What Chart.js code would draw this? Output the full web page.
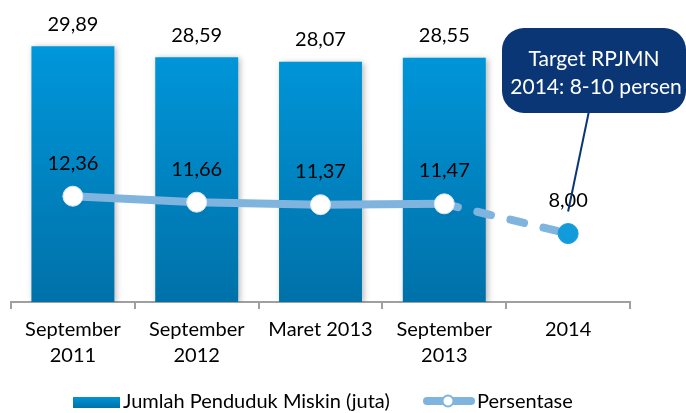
<!DOCTYPE html>
<html>
<head>
<meta charset="utf-8">
<script src="https://cdn.jsdelivr.net/npm/chart.js@4.4.1/dist/chart.umd.min.js"></script>
<style>
  html, body { margin: 0; padding: 0; background: #fff; }
  #wrap { width: 686px; height: 413px; position: relative; }
</style>
</head>
<body>
<div id="wrap"><canvas id="povertyChart"></canvas></div>
<script>
// --- DATA ---
const categories = [['September', '2011'], ['September', '2012'], 'Maret 2013', ['September', '2013'], '2014'];
const jumlahMiskin = [29.89, 28.59, 28.07, 28.55, null];
const persentase = [12.36, 11.66, 11.37, 11.47, 8.00];
const barLabel = 'Jumlah Penduduk Miskin (juta)';
const lineLabel = 'Persentase';
const calloutLines = ['Target RPJMN', '2014: 8-10 persen'];

const FONT = 'Lato, "Open Sans", sans-serif';
const LINE_BLUE = '#7fb4de';
const TARGET_BLUE = '#129bdb';
const NAVY = '#0b3676';

function fmt(v) {
    return v.toFixed(2).replace('.', ',');
}

function barGradient(ctx, top, bottom) {
    const g = ctx.createLinearGradient(0, top, 0, bottom);
    g.addColorStop(0, '#0097db');
    g.addColorStop(1, '#0071a9');
    return g;
}

// --- PLUGINS ---
const shadows = {
    id: 'shadows',
    beforeDatasetDraw(chart, args) {
        const ctx = chart.ctx;
        if (args.index === 0) {
            ctx.save();
            ctx.shadowColor = 'rgba(0,0,0,0.28)';
            ctx.shadowBlur = 6;
            ctx.shadowOffsetX = 2;
            ctx.shadowOffsetY = 1;
        } else {
            // soft shadow under the markers
            ctx.save();
            ctx.shadowColor = 'rgba(0,0,0,0.35)';
            ctx.shadowBlur = 5;
            ctx.shadowOffsetX = 2;
            ctx.shadowOffsetY = 3;
            ctx.fillStyle = 'rgba(0,0,0,0.15)';
            args.meta.data.forEach(pt => {
                ctx.beginPath();
                ctx.arc(pt.x, pt.y, 9, 0, Math.PI * 2);
                ctx.fill();
            });
            ctx.restore();
        }
    },
    afterDatasetDraw(chart, args) {
        if (args.index === 0) chart.ctx.restore();
    }
};

const valueLabels = {
    id: 'valueLabels',
    afterDatasetsDraw(chart) {
        const ctx = chart.ctx;
        ctx.save();
        ctx.font = '20px ' + FONT;
        ctx.fillStyle = '#000';
        ctx.textAlign = 'center';
        ctx.textBaseline = 'middle';
        chart.getDatasetMeta(0).data.forEach((bar, i) => {
            if (jumlahMiskin[i] == null) return;
            ctx.fillText(fmt(jumlahMiskin[i]), bar.x, bar.y - 22);
        });
        chart.getDatasetMeta(1).data.forEach((pt, i) => {
            ctx.fillText(fmt(persentase[i]), pt.x, pt.y - 33);
        });
        ctx.restore();
    }
};

const callout = {
    id: 'callout',
    afterDatasetsDraw(chart) {
        const ctx = chart.ctx;
        const pts = chart.getDatasetMeta(1).data;
        const target = pts[pts.length - 1];
        const bx = 502, by = 28, bw = 184, bh = 85, r = 22;
        ctx.save();
        // pointer
        ctx.strokeStyle = NAVY;
        ctx.lineWidth = 2;
        ctx.beginPath();
        ctx.moveTo(589, by + bh - 2);
        ctx.lineTo(target.x, target.y - 22);
        ctx.stroke();
        // box
        ctx.fillStyle = NAVY;
        ctx.beginPath();
        ctx.roundRect(bx, by, bw, bh, r);
        ctx.fill();
        ctx.fillStyle = '#fff';
        ctx.font = '21px ' + FONT;
        ctx.textAlign = 'center';
        ctx.textBaseline = 'middle';
        ctx.fillText(calloutLines[0], 594, 59);
        ctx.fillText(calloutLines[1], 596, 87);
        ctx.restore();
    }
};

const legendBox = {
    id: 'legendBox',
    afterDraw(chart) {
        const ctx = chart.ctx;
        const cy = 402;
        ctx.save();
        // bar swatch
        ctx.fillStyle = barGradient(ctx, cy - 6, cy + 6);
        ctx.fillRect(73, cy - 5, 47, 11);
        ctx.fillStyle = '#000';
        ctx.font = '20px ' + FONT;
        ctx.textAlign = 'left';
        ctx.textBaseline = 'middle';
        ctx.fillText(barLabel, 123, cy);
        // line swatch
        ctx.strokeStyle = LINE_BLUE;
        ctx.lineWidth = 8;
        ctx.lineCap = 'round';
        ctx.beginPath();
        ctx.moveTo(427, cy - 1);
        ctx.lineTo(471, cy - 1);
        ctx.stroke();
        ctx.fillStyle = '#fff';
        ctx.strokeStyle = LINE_BLUE;
        ctx.lineWidth = 2;
        ctx.beginPath();
        ctx.arc(448, cy - 1, 5.5, 0, Math.PI * 2);
        ctx.fill();
        ctx.stroke();
        ctx.fillStyle = '#000';
        ctx.fillText(lineLabel, 477, cy);
        ctx.restore();
    }
};

// --- CHART ---
const ctx = document.getElementById('povertyChart').getContext('2d');
new Chart(ctx, {
    type: 'bar',
    data: {
        labels: categories,
        datasets: [{
            label: barLabel,
            data: jumlahMiskin,
            order: 1,
            backgroundColor(c) {
                const chart = c.chart;
                if (!chart.chartArea) return '#0085c4';
                return barGradient(chart.ctx, chart.scales.y.getPixelForValue(30), chart.chartArea.bottom);
            },
            borderWidth: 0,
            categoryPercentage: 1,
            barPercentage: 0.67
        }, {
            type: 'line',
            label: lineLabel,
            data: persentase,
            order: 0,
            borderColor: LINE_BLUE,
            borderWidth: 8,
            borderCapStyle: 'round',
            tension: 0,
            segment: {
                borderDash: s => s.p1DataIndex === persentase.length - 1 ? [14, 20] : undefined
            },
            pointRadius: 10,
            pointBorderWidth: 1,
            pointBackgroundColor: persentase.map((v, i) => i === persentase.length - 1 ? TARGET_BLUE : '#fff'),
            pointBorderColor: persentase.map((v, i) => i === persentase.length - 1 ? TARGET_BLUE : '#d6e8f6')
        }]
    },
    options: {
        responsive: true,
        maintainAspectRatio: false,
        animation: false,
        layout: { padding: { top: 5, left: 11, right: 56, bottom: 41 } },
        plugins: {
            legend: { display: false },
            tooltip: { enabled: false }
        },
        scales: {
            x: {
                grid: { display: true, drawOnChartArea: false, offset: true, tickLength: 7, color: '#a0a0a0', lineWidth: 2 },
                border: { display: true, color: '#a0a0a0', width: 2 },
                ticks: {
                    color: '#000',
                    padding: 8,
                    maxRotation: 0,
                    font: { family: FONT, size: 20, lineHeight: 1.3 }
                },
                afterFit(scale) { scale.height = 70; }
            },
            y: {
                display: false,
                min: 0,
                max: 34
            }
        }
    },
    plugins: [shadows, valueLabels, callout, legendBox]
});
</script>
</body>
</html>
